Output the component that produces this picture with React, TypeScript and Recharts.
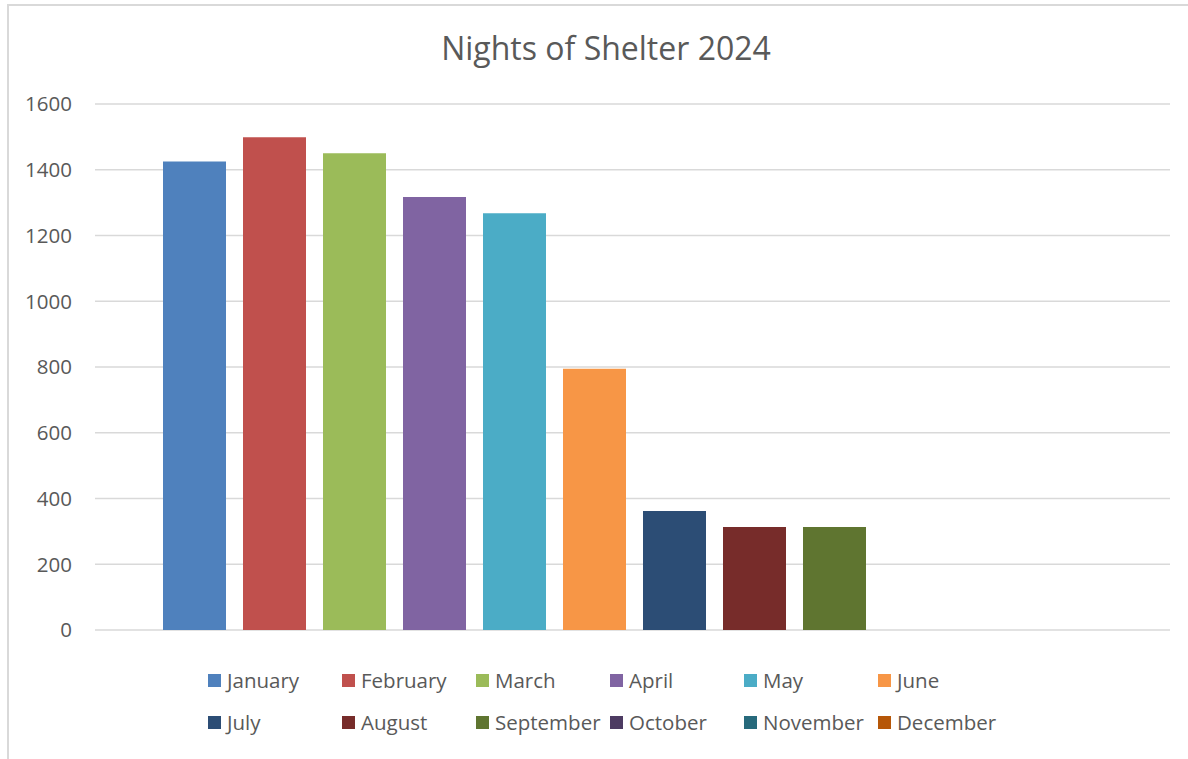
import { BarChart, Bar, XAxis, YAxis, CartesianGrid, Legend } from 'recharts';

const months = [
    'January', 'February', 'March', 'April', 'May', 'June',
    'July', 'August', 'September', 'October', 'November', 'December',
];
const nights = [1425, 1499, 1450, 1317, 1268, 795, 362, 313, 313, 0, 0, 0];
const monthColors = [
    '#4F81BD', '#C0504D', '#9BBB59', '#8064A2', '#4BACC6', '#F79646',
    '#2C4D75', '#772C2A', '#5F7530', '#4D3B62', '#276A7C', '#B65708',
];
const yTicks = [0, 200, 400, 600, 800, 1000, 1200, 1400, 1600];

const row: Record<string, string | number> = { label: '2024' };
months.forEach((m, i) => {
    row[m] = nights[i];
});
const data = [row];

const FONT = '"Open Sans", "Noto Sans", sans-serif';
const TEXT = '#595959';

function MonthLegend() {
    return (
        <div
            style={{
                height: 90,
                display: 'grid',
                gridTemplateColumns: 'repeat(6, 134px)',
                gridAutoRows: '42px',
                paddingLeft: 208,
                paddingTop: 29,
                boxSizing: 'border-box',
                fontFamily: FONT,
                fontSize: 20.5,
                color: TEXT,
            }}
        >
            {months.map((m, i) => (
                <div key={m} style={{ display: 'flex', alignItems: 'center', whiteSpace: 'nowrap' }}>
                    <span
                        style={{
                            width: 13,
                            height: 13,
                            background: monthColors[i],
                            marginRight: 6,
                            display: 'inline-block',
                            flexShrink: 0,
                        }}
                    />
                    {m}
                </div>
            ))}
        </div>
    );
}

export default function App() {
    return (
        <div style={{ position: 'absolute', left: 0, top: 0, width: 1188, height: 759, overflow: 'hidden', background: '#fff' }}>
            <div
                style={{
                    position: 'absolute',
                    left: 7,
                    top: 4,
                    width: 1200,
                    height: 800,
                    border: '2px solid #d9d9d9',
                }}
            />
            <div
                style={{
                    position: 'absolute',
                    left: 0,
                    width: 1212,
                    top: 26,
                    textAlign: 'center',
                    fontFamily: FONT,
                    fontSize: 32,
                    color: TEXT,
                }}
            >
                Nights of Shelter 2024
            </div>
            <BarChart
                width={1188}
                height={759}
                data={data}
                margin={{ top: 104, right: 18, left: 0, bottom: 39 }}
                barCategoryGap={68}
                barGap={17}
                style={{ position: 'absolute', left: 0, top: 0 }}
            >
                <CartesianGrid vertical={false} stroke="#d9d9d9" strokeWidth={1.3} />
                <XAxis dataKey="label" tick={false} tickLine={false} height={0} axisLine={{ stroke: '#d9d9d9', strokeWidth: 1.3 }} />
                <YAxis
                    width={95}
                    domain={[0, 1600]}
                    ticks={yTicks}
                    axisLine={false}
                    tickLine={false}
                    tickSize={0}
                    tickMargin={23}
                    tick={{ fill: TEXT, fontSize: 20.5, fontFamily: FONT }}
                />
                <Legend
                    verticalAlign="bottom"
                    content={() => <MonthLegend />}
                    wrapperStyle={{ left: 0, width: 1188 }}
                />
                {months.map((m, i) => (
                    <Bar key={m} dataKey={m} fill={monthColors[i]} isAnimationActive={false} />
                ))}
            </BarChart>
        </div>
    );
}
